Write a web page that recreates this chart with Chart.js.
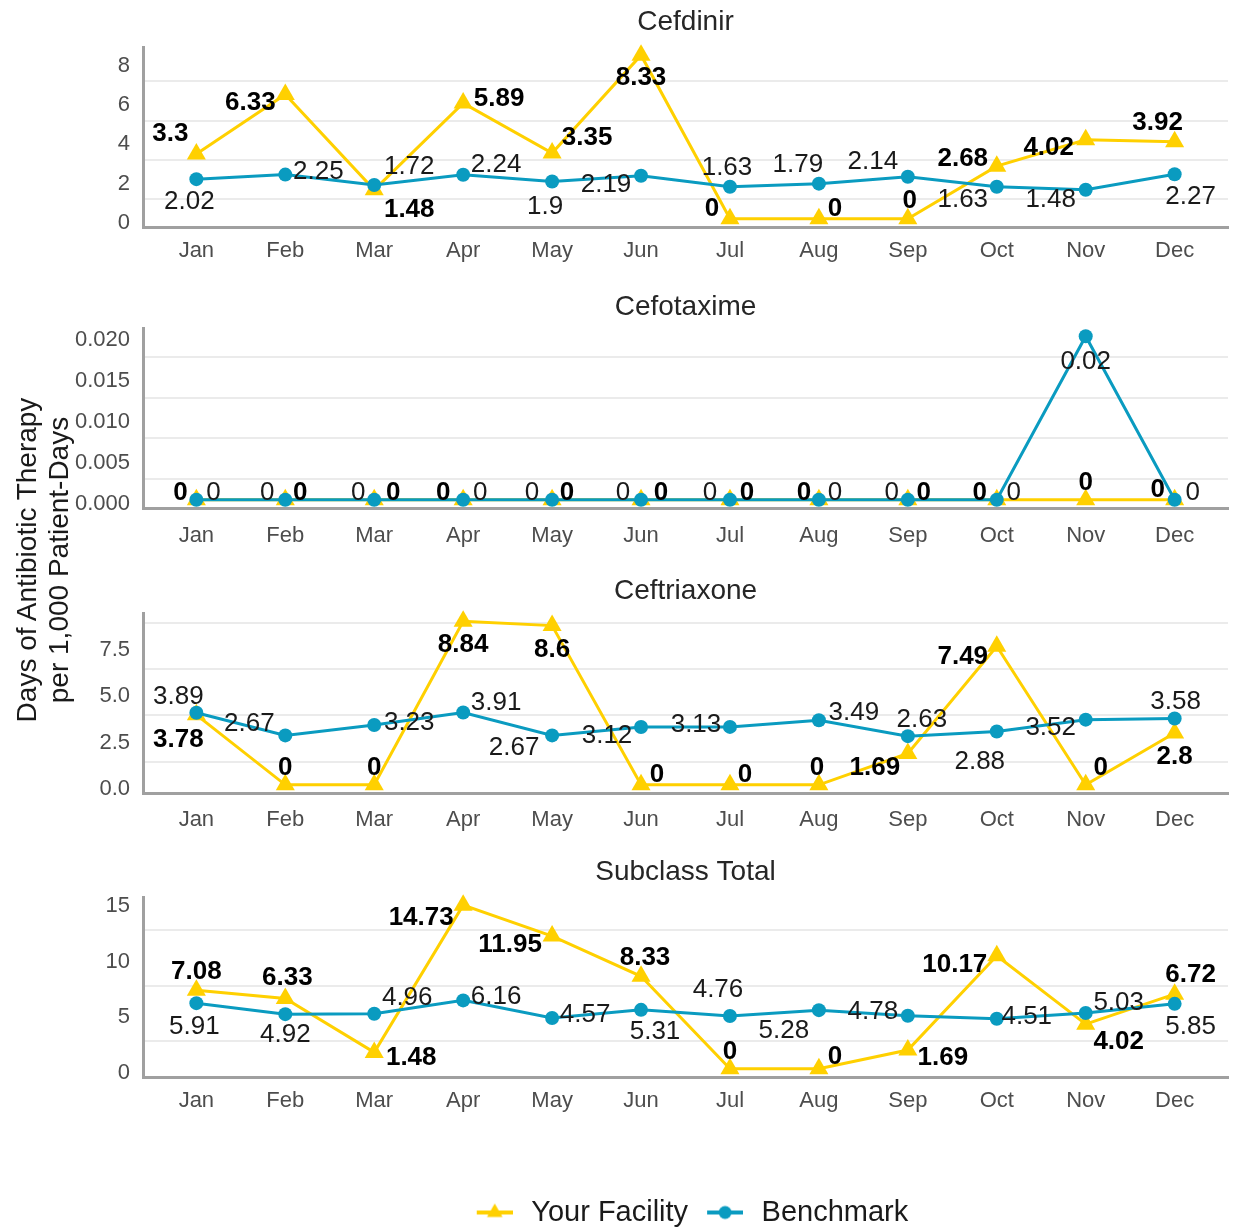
<!DOCTYPE html>
<html>
<head>
<meta charset="utf-8">
<title>Days of Antibiotic Therapy per 1,000 Patient-Days</title>
<script src="https://cdn.jsdelivr.net/npm/chart.js@4.4.1/dist/chart.umd.min.js"></script>
<style>
  html, body { margin: 0; padding: 0; background: #fff; width: 1233px; height: 1230px; overflow: hidden; position: relative; }
  .panel { position: absolute; left: 0; width: 1239px; }
  #ytitle {
    position: absolute; left: -161px; top: 532px; width: 400px; height: 56px;
    line-height: 28px; font: 28px "Liberation Sans", Arial, sans-serif; color: #1a1a1a;
    text-align: center; transform: rotate(-90deg); white-space: nowrap;
  }
</style>
</head>
<body>
<div class="panel" style="top:0px"><canvas id="cefdinir" width="1239" height="281"></canvas></div>
<div class="panel" style="top:281px"><canvas id="cefotaxime" width="1239" height="281"></canvas></div>
<div class="panel" style="top:566px"><canvas id="ceftriaxone" width="1239" height="281"></canvas></div>
<div class="panel" style="top:850px"><canvas id="subclass" width="1239" height="387"></canvas></div>
<div id="ytitle">Days of Antibiotic Therapy<br>per 1,000 Patient-Days</div>
<script>
// ---- data ----
const months = ['Jan', 'Feb', 'Mar', 'Apr', 'May', 'Jun', 'Jul', 'Aug', 'Sep', 'Oct', 'Nov', 'Dec'];
const seriesNames = ['Your Facility', 'Benchmark'];

const cefdinirFacility  = [3.3, 6.33, 1.48, 5.89, 3.35, 8.33, 0, 0, 0, 2.68, 4.02, 3.92];
const cefdinirBenchmark = [2.02, 2.25, 1.72, 2.24, 1.9, 2.19, 1.63, 1.79, 2.14, 1.63, 1.48, 2.27];
const cefdinirTicks = ['0', '2', '4', '6', '8'];

const cefotaximeFacility  = [0, 0, 0, 0, 0, 0, 0, 0, 0, 0, 0, 0];
const cefotaximeBenchmark = [0, 0, 0, 0, 0, 0, 0, 0, 0, 0, 0.02, 0];
const cefotaximeTicks = ['0.000', '0.005', '0.010', '0.015', '0.020'];

const ceftriaxoneFacility  = [3.78, 0, 0, 8.84, 8.6, 0, 0, 0, 1.69, 7.49, 0, 2.8];
const ceftriaxoneBenchmark = [3.89, 2.67, 3.23, 3.91, 2.67, 3.12, 3.13, 3.49, 2.63, 2.88, 3.52, 3.58];
const ceftriaxoneTicks = ['0.0', '2.5', '5.0', '7.5'];

const subclassFacility  = [7.08, 6.33, 1.48, 14.73, 11.95, 8.33, 0, 0, 1.69, 10.17, 4.02, 6.72];
const subclassBenchmark = [5.91, 4.92, 4.96, 6.16, 4.57, 5.31, 4.76, 5.28, 4.78, 4.51, 5.03, 5.85];
const subclassTicks = ['0', '5', '10', '15'];

// ---- value label placement (pixel offsets from each marker) ----
const cefdinirFacilityPos  = [[-26,-20],[-35,8],[35,20],[36,-4],[35,-15],[0,23],[-18,-10],[16,-10],[2,-18],[-34,-7],[-37,8],[-17,-19]];
const cefdinirBenchmarkPos = [[-7,23],[33,-3],[35,-18],[33,-10],[-7,25],[-35,9],[-3,-19],[-21,-19],[-35,-15],[-34,13],[-35,10],[16,23]];
const cefotaximeFacilityPos  = [[-16,-7],[15,-7],[19,-7],[-20,-7],[15,-7],[20,-7],[17,-7],[-15,-7],[16,-7],[-17,-7],[0,-17],[-17,-10]];
const cefotaximeBenchmarkPos = [[17,-7],[-18,-7],[-16,-7],[17,-7],[-20,-7],[-18,-7],[-20,-7],[16,-7],[-16,-7],[17,-7],[0,26],[18,-7]];
const ceftriaxoneFacilityPos  = [[-18,25],[0,-17],[0,-17],[0,24],[0,24],[16,-10],[15,-10],[-2,-17],[-33,14],[-34,11],[15,-17],[0,24]];
const ceftriaxoneBenchmarkPos = [[-18,-16],[-36,-12],[35,-2],[33,-10],[-38,12],[-34,9],[-34,-2],[35,-7],[14,-16],[-17,30],[-35,8],[1,-17]];
const subclassFacilityPos  = [[0,-18],[2,-21],[37,5],[-42,13],[-42,9],[4,-18],[0,-17],[16,-12],[35,8],[-42,9],[33,18],[16,-19]];
const subclassBenchmarkPos = [[-2,24],[0,21],[33,-16],[33,-4],[33,-3],[14,22],[-12,-26],[-35,21],[-35,-4],[30,-2],[33,-10],[16,23]];

// ---- styling ----
const FONT = '"Liberation Sans", Arial, sans-serif';
const FACILITY_COLOR = '#FFD000';
const BENCHMARK_COLOR = '#0A9BC0';
const AXIS_COLOR = '#a0a0a0';
const GRID_COLOR = '#ebebeb';
const TICK_COLOR = '#4d4d4d';
const TITLE_SIZE = 28;

// draws each point's value next to its marker
const valueLabels = {
  id: 'valueLabels',
  afterDatasetsDraw(chart) {
    const ctx = chart.ctx;
    chart.data.datasets.forEach((ds, di) => {
      const meta = chart.getDatasetMeta(di);
      ctx.save();
      ctx.font = (ds.labelBold ? 'bold ' : '') + '26px ' + FONT;
      ctx.fillStyle = ds.labelBold ? '#000' : '#1a1a1a';
      ctx.textAlign = 'center';
      ctx.textBaseline = 'middle';
      meta.data.forEach((pt, i) => {
        const off = ds.labelPos[i];
        ctx.fillText(String(ds.data[i].y), pt.x + off[0], pt.y + off[1]);
      });
      ctx.restore();
    });
  }
};

// small legend glyphs: a line segment with the series marker in the middle
function legendGlyph(color, style, radius) {
  const c = document.createElement('canvas');
  c.width = 46; c.height = 22;
  const g = c.getContext('2d');
  g.strokeStyle = color; g.lineWidth = 4;
  g.beginPath(); g.moveTo(10, 11); g.lineTo(46, 11); g.stroke();
  g.fillStyle = color;
  Chart.helpers.drawPoint(g, { pointStyle: style, radius: radius, borderWidth: 0 }, 28, 11);
  return c;
}

function buildPanel(id, spec) {
  const all = spec.facility.concat(spec.benchmark);
  const lo = Math.min(0, ...all), hi = Math.max(...all);
  const expand = (hi - lo) * 0.05;
  const yMin = lo - expand, yMax = hi + expand;
  const labelValues = spec.ticks.map(Number);
  const half = (labelValues[1] - labelValues[0]) / 2;
  const tickList = [];
  labelValues.forEach((v, i) => {
    tickList.push({ value: v, text: spec.ticks[i], grid: false });
    if (v + half < yMax) tickList.push({ value: v + half, text: '', grid: true });
  });

  const datasets = [
    {
      label: seriesNames[0],
      data: spec.facility.map((v, i) => ({ x: i, y: v })),
      borderColor: FACILITY_COLOR, backgroundColor: FACILITY_COLOR,
      pointBackgroundColor: FACILITY_COLOR, pointBorderWidth: 0,
      pointStyle: 'triangle', pointRadius: 11, borderWidth: 3, tension: 0,
      labelPos: spec.facilityPos, labelBold: true, order: 2, clip: false
    },
    {
      label: seriesNames[1],
      data: spec.benchmark.map((v, i) => ({ x: i, y: v })),
      borderColor: BENCHMARK_COLOR, backgroundColor: BENCHMARK_COLOR,
      pointBackgroundColor: BENCHMARK_COLOR, pointBorderWidth: 0,
      pointStyle: 'circle', pointRadius: 7, borderWidth: 3, tension: 0,
      labelPos: spec.benchmarkPos, labelBold: false, order: 1, clip: false
    }
  ];

  const glyphs = [legendGlyph(FACILITY_COLOR, 'triangle', 9), legendGlyph(BENCHMARK_COLOR, 'circle', 6.5)];
  const titleLine = TITLE_SIZE * 1.2;
  const titleTop = spec.titleCenter - titleLine / 2;

  return new Chart(document.getElementById(id), {
    type: 'line',
    data: { datasets },
    plugins: [valueLabels],
    options: {
      responsive: false,
      animation: false,
      devicePixelRatio: 1,
      layout: { padding: { left: 0, right: 0, top: 0, bottom: 0 } },
      plugins: {
        tooltip: { enabled: false },
        title: {
          display: true, text: spec.title, fullSize: false,
          font: { family: FONT, size: TITLE_SIZE, weight: 'normal', lineHeight: 1.2 },
          color: '#262626',
          padding: { top: titleTop, bottom: 47 - titleTop - titleLine }
        },
        legend: spec.legend ? {
          display: true, position: 'bottom', fullSize: false,
          labels: {
            usePointStyle: true, pointStyleWidth: 54, padding: 5,
            font: { family: FONT, size: 29 }, color: '#1a1a1a',
            generateLabels: (chart) => chart.data.datasets.map((ds, i) => ({
              text: ds.label, pointStyle: glyphs[i], fillStyle: ds.borderColor,
              strokeStyle: ds.borderColor, lineWidth: 0, hidden: false,
              datasetIndex: i, fontColor: '#1a1a1a'
            }))
          }
        } : { display: false }
      },
      scales: {
        x: {
          type: 'linear', min: -0.6, max: months.length - 0.4,
          afterBuildTicks: (s) => { s.ticks = months.map((m, i) => ({ value: i })); },
          afterFit: (s) => { s.height = spec.xAxisHeight; },
          ticks: {
            callback: (v) => months[v], autoSkip: false, maxRotation: 0, minRotation: 0,
            font: { family: FONT, size: 22 }, color: TICK_COLOR, padding: spec.xLabelGap - 13.2
          },
          grid: { display: false, drawTicks: false },
          border: { display: true, color: AXIS_COLOR, width: 3 }
        },
        y: {
          min: yMin, max: yMax,
          afterBuildTicks: (s) => { s.ticks = tickList.map(t => Object.assign({}, t)); },
          afterFit: (s) => { s.width = 143; },
          ticks: {
            callback: (v, i, ts) => ts[i].text,
            font: { family: FONT, size: 22 }, color: TICK_COLOR, padding: 13, autoSkip: false,
            labelOffset: 4
          },
          grid: {
            drawTicks: false, lineWidth: 2,
            color: (ctx) => (ctx.tick && ctx.tick.grid) ? GRID_COLOR : 'rgba(0,0,0,0)'
          },
          border: { display: true, color: AXIS_COLOR, width: 3 }
        }
      }
    }
  });
}

buildPanel('cefdinir', {
  title: 'Cefdinir', facility: cefdinirFacility, benchmark: cefdinirBenchmark, ticks: cefdinirTicks,
  facilityPos: cefdinirFacilityPos, benchmarkPos: cefdinirBenchmarkPos,
  titleCenter: 22, xAxisHeight: 54, xLabelGap: 24, legend: false
});
buildPanel('cefotaxime', {
  title: 'Cefotaxime', facility: cefotaximeFacility, benchmark: cefotaximeBenchmark, ticks: cefotaximeTicks,
  facilityPos: cefotaximeFacilityPos, benchmarkPos: cefotaximeBenchmarkPos,
  titleCenter: 26, xAxisHeight: 54, xLabelGap: 28, legend: false
});
buildPanel('ceftriaxone', {
  title: 'Ceftriaxone', facility: ceftriaxoneFacility, benchmark: ceftriaxoneBenchmark, ticks: ceftriaxoneTicks,
  facilityPos: ceftriaxoneFacilityPos, benchmarkPos: ceftriaxoneBenchmarkPos,
  titleCenter: 25, xAxisHeight: 54, xLabelGap: 27, legend: false
});
buildPanel('subclass', {
  title: 'Subclass Total', facility: subclassFacility, benchmark: subclassBenchmark, ticks: subclassTicks,
  facilityPos: subclassFacilityPos, benchmarkPos: subclassBenchmarkPos,
  titleCenter: 22, xAxisHeight: 116, xLabelGap: 23.5, legend: true
});
</script>
</body>
</html>
